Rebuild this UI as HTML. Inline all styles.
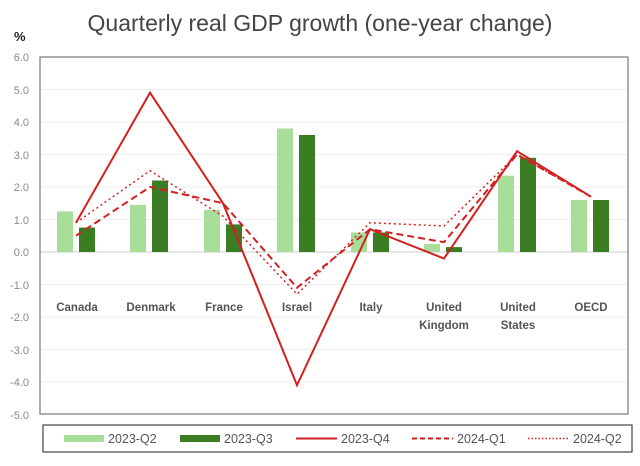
<!DOCTYPE html>
<html><head><meta charset="utf-8"><style>
body{margin:0;background:#fff;}
svg{display:block;font-family:"Liberation Sans",sans-serif;}
</style></head><body>
<svg width="640" height="466" viewBox="0 0 640 466">
<text x="320" y="31" text-anchor="middle" font-size="23" fill="#444" font-family="Liberation Sans Narrow, Liberation Sans, sans-serif">Quarterly real GDP growth (one-year change)</text>
<text x="14" y="41" font-size="13" font-weight="bold" fill="#222">%</text>
<g stroke="#eee" stroke-width="1">
<line x1="40" x2="628" y1="89.5" y2="89.5"/><line x1="40" x2="628" y1="122" y2="122"/>
<line x1="40" x2="628" y1="154.5" y2="154.5"/><line x1="40" x2="628" y1="187" y2="187"/>
<line x1="40" x2="628" y1="219.5" y2="219.5"/><line x1="40" x2="628" y1="284.5" y2="284.5"/>
<line x1="40" x2="628" y1="317" y2="317"/><line x1="40" x2="628" y1="349.5" y2="349.5"/>
<line x1="40" x2="628" y1="382" y2="382"/>
</g>
<line x1="40" x2="628" y1="252" y2="252" stroke="#ccc"/>
<g font-size="11" fill="#888" text-anchor="end">
<text x="29" y="61">6.0</text><text x="29" y="94">5.0</text><text x="29" y="126">4.0</text>
<text x="29" y="159">3.0</text><text x="29" y="191">2.0</text><text x="29" y="224">1.0</text>
<text x="29" y="256">0.0</text><text x="29" y="289">-1.0</text><text x="29" y="321">-2.0</text>
<text x="29" y="354">-3.0</text><text x="29" y="386">-4.0</text><text x="29" y="419">-5.0</text>
</g>
<g fill="#a8dd9a">
<rect x="57" y="211.4" width="16" height="40.6"/><rect x="130" y="204.9" width="16" height="47.1"/>
<rect x="204" y="209.8" width="16" height="42.2"/><rect x="277" y="128.5" width="16" height="123.5"/>
<rect x="351" y="232.5" width="16" height="19.5"/><rect x="424" y="243.9" width="16" height="8.1"/>
<rect x="498" y="175.6" width="16" height="76.4"/><rect x="571" y="200" width="16" height="52"/>
</g>
<g fill="#3a7d23">
<rect x="79" y="227.6" width="16" height="24.4"/><rect x="152" y="180.5" width="16" height="71.5"/>
<rect x="226" y="224.4" width="16" height="27.6"/><rect x="299" y="135" width="16" height="117"/>
<rect x="373" y="232.5" width="16" height="19.5"/><rect x="446" y="247.1" width="16" height="4.9"/>
<rect x="520" y="157.8" width="16" height="94.2"/><rect x="593" y="200" width="16" height="52"/>
</g>
<g fill="none" stroke="#d42020" stroke-width="2">
<polyline points="76,222.7 150,92.7 223,203.2 297,385.2 370,229.2 444,258.5 517,151.2 591,196.7"/>
<polyline stroke-dasharray="7,4" points="76,235.7 150,187 223,203.2 297,287.7 370,229.2 444,242.2 517,154.5 591,196.7"/>
<polyline stroke-width="1.5" stroke-dasharray="2,3" points="76,222.7 150,170.7 223,216.2 297,294.2 370,222.7 444,226 517,154.5 591,196.7"/>
</g>
<rect x="40" y="57" width="588" height="357" fill="none" stroke="#777" stroke-width="1.2"/>
<g font-size="11.5" font-weight="bold" fill="#555" text-anchor="middle">
<text x="77" y="311">Canada</text><text x="151" y="311">Denmark</text><text x="224" y="311">France</text>
<text x="297" y="311">Israel</text><text x="371" y="311">Italy</text>
<text x="444" y="311">United</text><text x="444" y="329">Kingdom</text>
<text x="518" y="311">United</text><text x="518" y="329">States</text><text x="591" y="311">OECD</text>
</g>
<rect x="43" y="425" width="589" height="27" fill="#fff" stroke="#444" stroke-width="1.2"/>
<g font-size="12.5" fill="#555">
<rect x="64" y="435" width="40" height="7" fill="#a8dd9a"/><text x="108" y="443">2023-Q2</text>
<rect x="180" y="435" width="40" height="7" fill="#3a7d23"/><text x="224" y="443">2023-Q3</text>
<line x1="296" x2="337" y1="438.5" y2="438.5" stroke="#d42020" stroke-width="2"/><text x="341" y="443">2023-Q4</text>
<line x1="412" x2="453" y1="438.5" y2="438.5" stroke="#d42020" stroke-width="2" stroke-dasharray="5,3"/><text x="457" y="443">2024-Q1</text>
<line x1="528" x2="569" y1="438.5" y2="438.5" stroke="#d42020" stroke-width="1.5" stroke-dasharray="1.5,2"/><text x="573" y="443">2024-Q2</text>
</g>
</svg>
</body></html>
